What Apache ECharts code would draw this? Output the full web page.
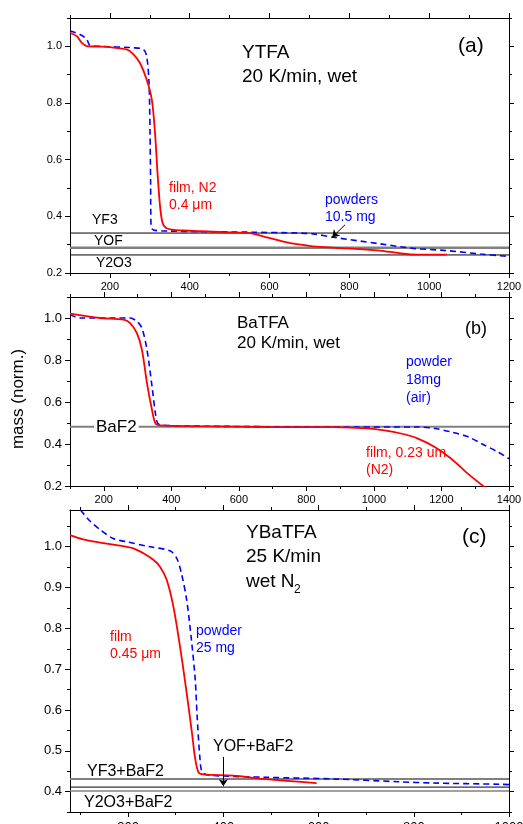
<!DOCTYPE html>
<html>
<head>
<meta charset="utf-8">
<script src="https://cdn.jsdelivr.net/npm/echarts@6/dist/echarts.min.js"></script>
<style>
  html, body { margin: 0; padding: 0; background: #fff; }
  #chart { width: 523px; height: 824px; }
</style>
</head>
<body>
<div id="chart"></div>
<script>
// ---------- (a) YTFA, 20 K/min, wet ----------
const ytfaFilmT   = [100, 117, 129, 142, 175, 200, 242, 259, 275, 292, 305, 313, 321, 330, 342, 384, 509, 551, 593, 635, 668, 718, 793, 860, 877, 935, 969, 1044];
const ytfaFilmM   = [1.048, 1.036, 1.013, 1.001, 0.999, 0.997, 0.989, 0.972, 0.942, 0.883, 0.812, 0.695, 0.518, 0.388, 0.358, 0.350, 0.343, 0.341, 0.326, 0.311, 0.302, 0.293, 0.287, 0.281, 0.279, 0.268, 0.265, 0.265];
const ytfaPowderT = [100, 125, 142, 150, 175, 259, 284, 292, 298, 300.5, 302, 303, 309, 342, 551, 676, 709, 760, 877, 960, 1044, 1128, 1186, 1200];
const ytfaPowderM = [1.054, 1.042, 1.025, 1.003, 1.0, 0.995, 0.989, 0.966, 0.871, 0.695, 0.518, 0.364, 0.352, 0.348, 0.344, 0.341, 0.338, 0.326, 0.303, 0.287, 0.279, 0.267, 0.260, 0.259];
const ytfaLevels  = [0.341, 0.2895, 0.2637];          // YF3, YOF, Y2O3
const ytfaArrow   = [[789, 0.370], [757, 0.326]];

// ---------- (b) BaTFA, 20 K/min, wet ----------
const batfaFilmT   = [100, 189, 258, 278, 298, 313, 328, 343, 353, 367, 486, 684, 882, 981, 1031, 1080, 1130, 1180, 1229, 1279, 1328];
const batfaFilmM   = [1.021, 1.0, 0.992, 0.976, 0.928, 0.848, 0.689, 0.561, 0.498, 0.489, 0.485, 0.481, 0.480, 0.474, 0.465, 0.450, 0.426, 0.386, 0.330, 0.258, 0.194];
const batfaPowderT = [100, 130, 278, 298, 313, 328, 343, 353, 360, 377, 486, 882, 1130, 1180, 1229, 1279, 1328, 1367, 1400];
const batfaPowderM = [1.016, 1.0, 1.0, 0.984, 0.952, 0.848, 0.673, 0.545, 0.498, 0.489, 0.485, 0.481, 0.481, 0.474, 0.457, 0.434, 0.394, 0.362, 0.330];
const batfaLevels  = [0.4826];                        // BaF2

// ---------- (c) YBaTFA, 25 K/min, wet N2 ----------
const ybatfaFilmT   = [78, 106, 141, 176, 211, 232, 253, 267, 281, 295, 309, 323, 334, 341, 348, 358, 421, 477, 526, 596];
const ybatfaFilmM   = [1.0285, 1.018, 1.010, 1.004, 0.996, 0.984, 0.968, 0.951, 0.919, 0.854, 0.756, 0.642, 0.545, 0.480, 0.447, 0.442, 0.439, 0.432, 0.427, 0.421];
const ybatfaPowderT = [100, 120, 141, 169, 197, 246, 288, 302, 312, 323, 333, 341, 345, 351, 356, 372, 491, 631, 771, 841, 981, 1000];
const ybatfaPowderM = [1.09, 1.063, 1.042, 1.020, 1.012, 1.0, 0.990, 0.972, 0.935, 0.870, 0.772, 0.675, 0.585, 0.480, 0.447, 0.440, 0.435, 0.431, 0.424, 0.421, 0.418, 0.417];
const ybatfaLevels  = [0.431, 0.411, 0.4015];         // YF3+BaF2, YOF+BaF2, Y2O3+BaF2
const ybatfaArrow   = [[400, 0.485], [400, 0.413]];

// ---------- tick values ----------
const xTicksA = [200, 400, 600, 800, 1000, 1200];
const xMinorA = [100, 300, 500, 700, 900, 1100];
const yTicksA = [0.2, 0.4, 0.6, 0.8, 1.0];
const yMinorA = [0.3, 0.5, 0.7, 0.9, 1.1];
const xTicksB = [200, 400, 600, 800, 1000, 1200, 1400];
const xMinorB = [100, 300, 500, 700, 900, 1100, 1300];
const yTicksB = [0.2, 0.4, 0.6, 0.8, 1.0];
const yMinorB = [0.3, 0.5, 0.7, 0.9, 1.1];
const xTicksC = [200, 400, 600, 800, 1000];
const xMinorC = [100, 300, 500, 700, 900];
const yTicksC = [0.4, 0.5, 0.6, 0.7, 0.8, 0.9, 1.0];
const yMinorC = [0.35, 0.45, 0.55, 0.65, 0.75, 0.85, 0.95, 1.05];

const FONT = '"Liberation Sans", Arial, Helvetica, sans-serif';
const RED = '#ff0000', BLUE = '#0000ff', GRAY = '#808080';
const zip = (a, b) => a.map((v, i) => [v, b[i]]);

const panels = [
  { grid: { left: 70, top: 18, width: 439, height: 255 },
    x: { min: 100, max: 1200, major: xTicksA, minor: xMinorA, font: 11, margin: 8 },
    y: { min: 0.2, max: 1.1, major: yTicksA, minor: yMinorA, font: 11, margin: 8 } },
  { grid: { left: 70, top: 297, width: 439, height: 189 },
    x: { min: 100, max: 1400, major: xTicksB, minor: xMinorB, font: 11, margin: 8 },
    y: { min: 0.2, max: 1.1, major: yTicksB, minor: yMinorB, font: 13, margin: 8 } },
  { grid: { left: 70, top: 510, width: 439, height: 302 },
    x: { min: 78, max: 1000, major: xTicksC, minor: xMinorC, font: 13, margin: 9 },
    y: { min: 0.35, max: 1.09, major: yTicksC, minor: yMinorC, font: 13, margin: 8 } }
];

const grids = [], xAxes = [], yAxes = [], axisRef = [];
const black = { color: '#000', width: 1 };

function frameAxis(list, gi, r, pos, showLine, showLabel, tickLen, vals, fmt) {
  list.push({
    gridIndex: gi, type: 'value', position: pos, min: r.min, max: r.max,
    splitLine: { show: false },
    axisLine: { show: showLine, onZero: false, lineStyle: black },
    axisTick: { show: true, customValues: vals, length: tickLen, lineStyle: black },
    axisLabel: showLabel
      ? { show: true, customValues: vals, fontSize: r.font, color: '#000', fontFamily: FONT, margin: r.margin, formatter: fmt }
      : { show: false }
  });
  return list.length - 1;
}

panels.forEach((p, gi) => {
  grids.push(Object.assign({ outerBoundsMode: 'none', containLabel: false }, p.grid));
  const xi = frameAxis(xAxes, gi, p.x, 'bottom', true, true, 5, p.x.major, v => String(Math.round(v)));
  frameAxis(xAxes, gi, p.x, 'bottom', false, false, 3, p.x.minor);
  frameAxis(xAxes, gi, p.x, 'top', true, false, 5, p.x.major);
  frameAxis(xAxes, gi, p.x, 'top', false, false, 3, p.x.minor);
  const yi = frameAxis(yAxes, gi, p.y, 'left', true, true, 5, p.y.major, v => v.toFixed(1));
  frameAxis(yAxes, gi, p.y, 'left', false, false, 3, p.y.minor);
  frameAxis(yAxes, gi, p.y, 'right', true, false, 5, p.y.major);
  frameAxis(yAxes, gi, p.y, 'right', false, false, 3, p.y.minor);
  axisRef.push({ xi, yi });
});

function curve(pi, T, M, color, dashed) {
  return {
    type: 'line', xAxisIndex: axisRef[pi].xi, yAxisIndex: axisRef[pi].yi,
    data: zip(T, M), showSymbol: false, symbol: 'none', silent: true,
    smooth: 0.3, z: dashed ? 4 : 5,
    lineStyle: { color, width: dashed ? 1.6 : 1.8, type: dashed ? [6, 4] : 'solid' }
  };
}

function level(pi, v, color, width, arrow) {
  const p = panels[pi];
  const s = {
    type: 'line', xAxisIndex: axisRef[pi].xi, yAxisIndex: axisRef[pi].yi,
    data: [[p.x.min, v], [p.x.max, v]], showSymbol: false, symbol: 'none', silent: true, z: 3,
    lineStyle: { color, width }
  };
  if (arrow) {
    s.markLine = {
      silent: true, symbol: ['none', 'arrow'], symbolSize: 7, z: 6,
      label: { show: false },
      lineStyle: { color: '#000', width: 1, type: 'solid' },
      itemStyle: { color: '#000' },
      data: [[{ coord: arrow[0] }, { coord: arrow[1] }]]
    };
  }
  return s;
}

const series = [
  level(0, ytfaLevels[0], '#000', 1, ytfaArrow),
  level(0, ytfaLevels[1], GRAY, 2.5),
  level(0, ytfaLevels[2], '#000', 1),
  curve(0, ytfaPowderT, ytfaPowderM, BLUE, true),
  curve(0, ytfaFilmT, ytfaFilmM, RED, false),

  level(1, batfaLevels[0], GRAY, 2),
  curve(1, batfaPowderT, batfaPowderM, BLUE, true),
  curve(1, batfaFilmT, batfaFilmM, RED, false),

  level(2, ybatfaLevels[0], GRAY, 2),
  level(2, ybatfaLevels[1], '#000', 1, ybatfaArrow),
  level(2, ybatfaLevels[2], GRAY, 1.5),
  curve(2, ybatfaPowderT, ybatfaPowderM, BLUE, true),
  curve(2, ybatfaFilmT, ybatfaFilmM, RED, false)
];

// annotation texts: [text, x, y, size, color, background]
const notes = [
  ['YTFA', 242, 53, 19, '#000'],
  ['20 K/min, wet', 242, 77, 19, '#000'],
  ['(a)', 458, 46, 21, '#000'],
  ['film, N2', 169, 188, 14, RED],
  ['0.4 \u03bcm', 169, 205, 14, RED],
  ['powders', 325, 200, 14, BLUE],
  ['10.5 mg', 325, 217, 14, BLUE],
  ['YF3', 92, 220, 14, '#000'],
  ['YOF', 94, 241, 14, '#000'],
  ['Y2O3', 96, 263, 14, '#000'],

  ['BaTFA', 237, 323, 17, '#000'],
  ['20 K/min, wet', 237, 343, 17, '#000'],
  ['(b)', 465, 329, 18, '#000'],
  ['powder', 406, 362, 14, BLUE],
  ['18mg', 406, 380, 14, BLUE],
  ['(air)', 406, 398, 14, BLUE],
  ['film, 0.23 um', 366, 453, 14, RED],
  ['(N2)', 366, 470, 14, RED],
  ['BaF2', 94, 427, 17, '#000', '#fff'],

  ['YBaTFA', 246, 533, 19, '#000'],
  ['25 K/min', 246, 557, 19, '#000'],
  ['wet N', 246, 582, 19, '#000'],
  ['2', 294, 590, 12, '#000'],
  ['(c)', 462, 537, 21, '#000'],
  ['film', 110, 637, 14, RED],
  ['0.45 \u03bcm', 110, 654, 14, RED],
  ['powder', 196, 631, 14, BLUE],
  ['25 mg', 196, 648, 14, BLUE],
  ['YOF+BaF2', 213, 747, 16, '#000'],
  ['YF3+BaF2', 87, 772, 16, '#000'],
  ['Y2O3+BaF2', 84, 803, 16, '#000']
];

const graphic = notes.map(([text, x, y, size, color, bg]) => ({
  type: 'text', x, y, z: 100, silent: true,
  style: {
    text, fill: color, font: size + 'px ' + FONT,
    align: 'left', verticalAlign: 'middle', textAlign: 'left', textVerticalAlign: 'middle',
    backgroundColor: bg || null, padding: bg ? [0, 2, 0, 2] : 0
  }
}));
graphic.push({
  type: 'text', x: 18, y: 399, rotation: Math.PI / 2, z: 100, silent: true,
  style: {
    text: 'mass (norm.)', fill: '#000', font: '17px ' + FONT,
    align: 'center', verticalAlign: 'middle', textAlign: 'center', textVerticalAlign: 'middle'
  }
});

const chart = echarts.init(document.getElementById('chart'), null, { renderer: 'canvas' });
chart.setOption({
  animation: false,
  backgroundColor: '#fff',
  grid: grids,
  xAxis: xAxes,
  yAxis: yAxes,
  series,
  graphic
});
</script>
</body>
</html>
